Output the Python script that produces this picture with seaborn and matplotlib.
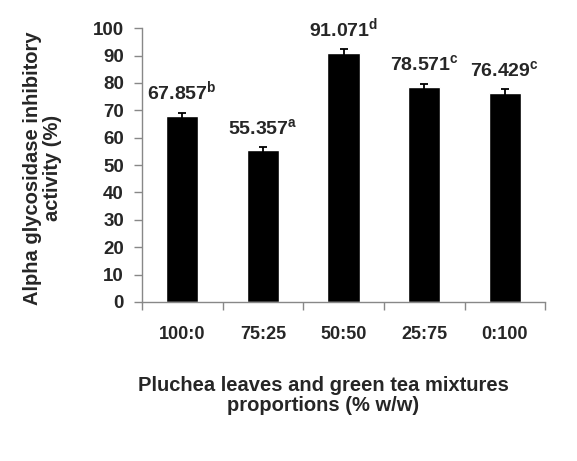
import numpy as np
import pandas as pd
import seaborn as sns
import matplotlib.pyplot as plt

# Data
proportions = ['100:0', '75:25', '50:50', '25:75', '0:100']
activity = [67.857, 55.357, 91.071, 78.571, 76.429]
errors = [1.2, 1.2, 1.3, 1.2, 1.2]
letters = ['b', 'a', 'd', 'c', 'c']

df = pd.DataFrame({'proportion': proportions, 'activity': activity})

sns.set_theme(style="white")
plt.rcParams['font.family'] = ['Liberation Sans', 'DejaVu Sans']
plt.rcParams['font.weight'] = 'bold'
plt.rcParams['mathtext.fontset'] = 'custom'
plt.rcParams['mathtext.bf'] = 'Liberation Sans:bold'
plt.rcParams['mathtext.rm'] = 'Liberation Sans:bold'

fig = plt.figure(figsize=(5.77, 4.61), dpi=100)
ax = fig.add_axes([0.246, 0.345, 0.699, 0.594])

sns.barplot(data=df, x='proportion', y='activity', color='black',
            width=0.4, errorbar=None, saturation=1, ax=ax)

# Error bars
x_pos = np.arange(len(proportions))
ax.errorbar(x_pos, activity, yerr=errors, fmt='none', ecolor='black',
            elinewidth=1.3, capsize=3, capthick=1.3)

# Value labels with significance letters
for x, v, e, l in zip(x_pos, activity, errors, letters):
    ax.annotate(f'{v:.3f}' + r'$^{\mathbf{' + l + '}}$', (x, v + e),
                xytext=(0, 6), textcoords='offset points',
                ha='center', va='bottom', fontsize=14, fontweight='bold')

ax.set_ylim(0, 100)
ax.set_yticks(range(0, 101, 10))
ax.set_xlim(-0.5, len(proportions) - 0.5)

# Ticks at category boundaries like the original
ax.set_xticks(x_pos)
ax.set_xticks(np.arange(-0.5, len(proportions), 1), minor=True)
ax.tick_params(axis='x', which='major', length=0, pad=17, labelsize=13)
ax.tick_params(axis='x', which='minor', length=6, color='#888888', width=1,
               direction='out', bottom=True)
ax.tick_params(axis='y', length=6, color='#888888', width=1, direction='out',
               left=True, labelsize=13.5, pad=7)

for side in ['top', 'right']:
    ax.spines[side].set_visible(False)
for side in ['left', 'bottom']:
    ax.spines[side].set_color('#888888')
    ax.spines[side].set_linewidth(1)

ax.set_xlabel('Pluchea leaves and green tea mixtures\nproportions (% w/w)',
              fontsize=14.5, fontweight='bold', linespacing=1.05)
ax.set_ylabel('Alpha glycosidase inhibitory\nactivity (%)',
              fontsize=14.5, fontweight='bold', linespacing=1.05)
ax.xaxis.set_label_coords(0.45, -0.27)
ax.yaxis.set_label_coords(-0.198, 0.49)

for lab in ax.get_xticklabels() + ax.get_yticklabels():
    lab.set_fontweight('bold')

plt.savefig('out.png', dpi=100)
